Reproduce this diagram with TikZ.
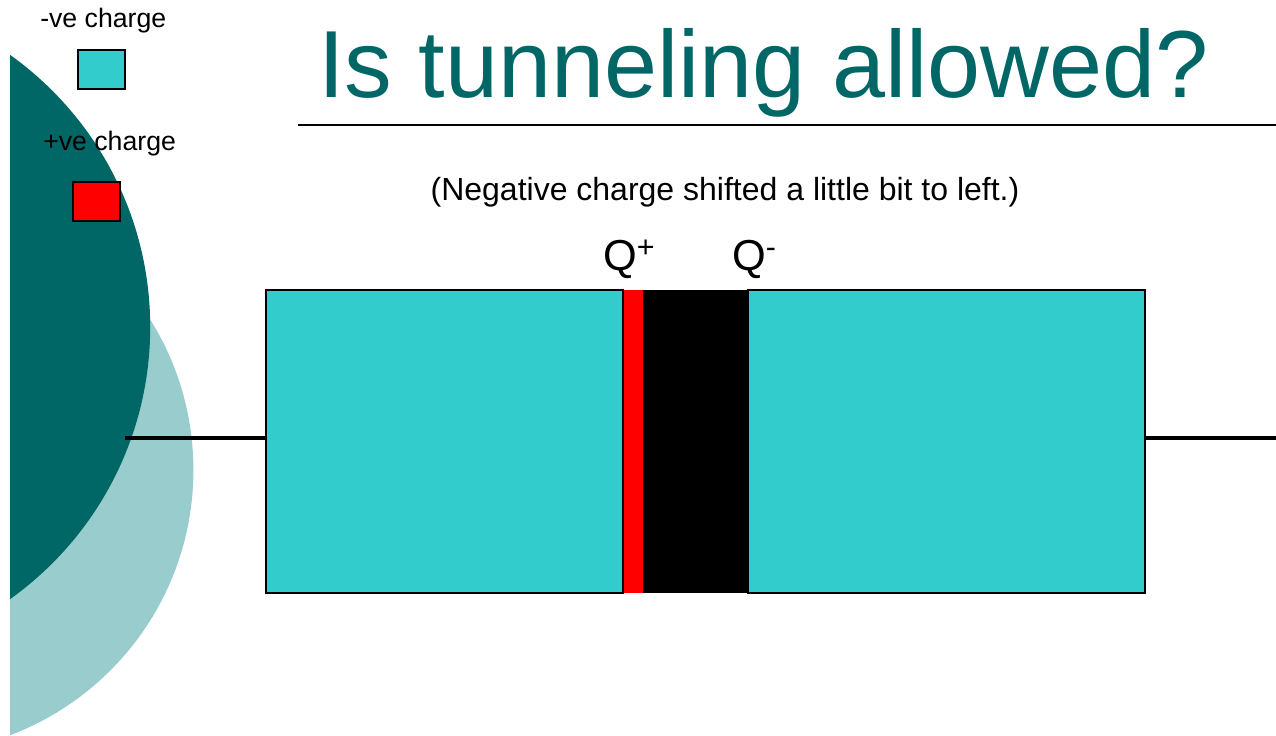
\documentclass[tikz,border=0pt]{standalone}
\usepackage{fontspec}
\setmainfont{Liberation Sans}
\usetikzlibrary{fit,positioning}
\definecolor{deepteal}{HTML}{006666}
\definecolor{paleteal}{HTML}{99CCCC}
\definecolor{platecyan}{HTML}{33CCCC}
\definecolor{chargered}{HTML}{FF0000}
\tikzset{
  plate/.style={draw=black,line width=1.4pt,fill=platecyan,inner sep=0pt},
  strip/.style={fill=#1,inner sep=0pt},
  swatch/.style={draw=black,line width=1.1pt,fill=#1,inner sep=0pt},
  wire/.style={line width=2.8pt,draw=black},
  legendtext/.style={font=\fontsize{20}{24}\selectfont,inner sep=0pt,anchor=base west},
  chargetext/.style={font=\fontsize{32.5}{38}\selectfont,inner sep=0pt,anchor=base west}
}

\begin{document}
\begin{tikzpicture}[x=0.75pt,y=-0.75pt]
    \useasboundingbox (0,0) rectangle (1276,735);
    % background discs
    \begin{scope}
      \clip (10,0) rectangle (1276,735);
      \fill[paleteal] (-90,470) circle [radius=283.4];
      \fill[deepteal] (-184,327) circle [radius=334.2];
    \end{scope}
    % legend
    \node[legendtext] (negtext) at (40,28) {-ve charge};
    \node[swatch=platecyan,fit={(78,50)(125,89)}] (negbox) {};
    \node[legendtext] (postext) at (43,150) {+ve charge};
    \node[swatch=chargered,fit={(73,182)(120,221)}] (posbox) {};
    % title
    \node[font=\fontsize{71.5}{80}\selectfont,text=deepteal,inner sep=0pt,anchor=base west] (title) at (318,97) {Is tunneling allowed?};
    \coordinate (rulestart) at (298,125);
    \coordinate (ruleend) at (1276,125);
    \draw[line width=1.5pt] (rulestart) -- (ruleend);
    \node[font=\fontsize{24}{28}\selectfont,inner sep=0pt,anchor=base] (note) at (725,200) {(Negative charge shifted a little bit to left.)};
    % capacitor
    \node[strip=black,fit={(643,290)(765,593)}] (barrier) {};
    \node[strip=chargered,fit={(623,290)(643,593)}] (posstrip) {};
    \node[plate,fit={(266,290)(623,593)}] (leftplate) {};
    \node[plate,fit={(748,290)(1145,593)}] (rightplate) {};
    \node[chargetext] (qplus) at (603,270) {Q\textsuperscript{+}};
    \node[chargetext] (qminus) at (732,270) {Q\textsuperscript{-}};
    \coordinate (leftend) at (125,438);
    \coordinate (rightend) at (1276,438);
    \draw[wire] (leftend) -- (leftend -| leftplate.west);
    \draw[wire] (rightend -| rightplate.east) -- (rightend);
  \end{tikzpicture}
\end{document}
